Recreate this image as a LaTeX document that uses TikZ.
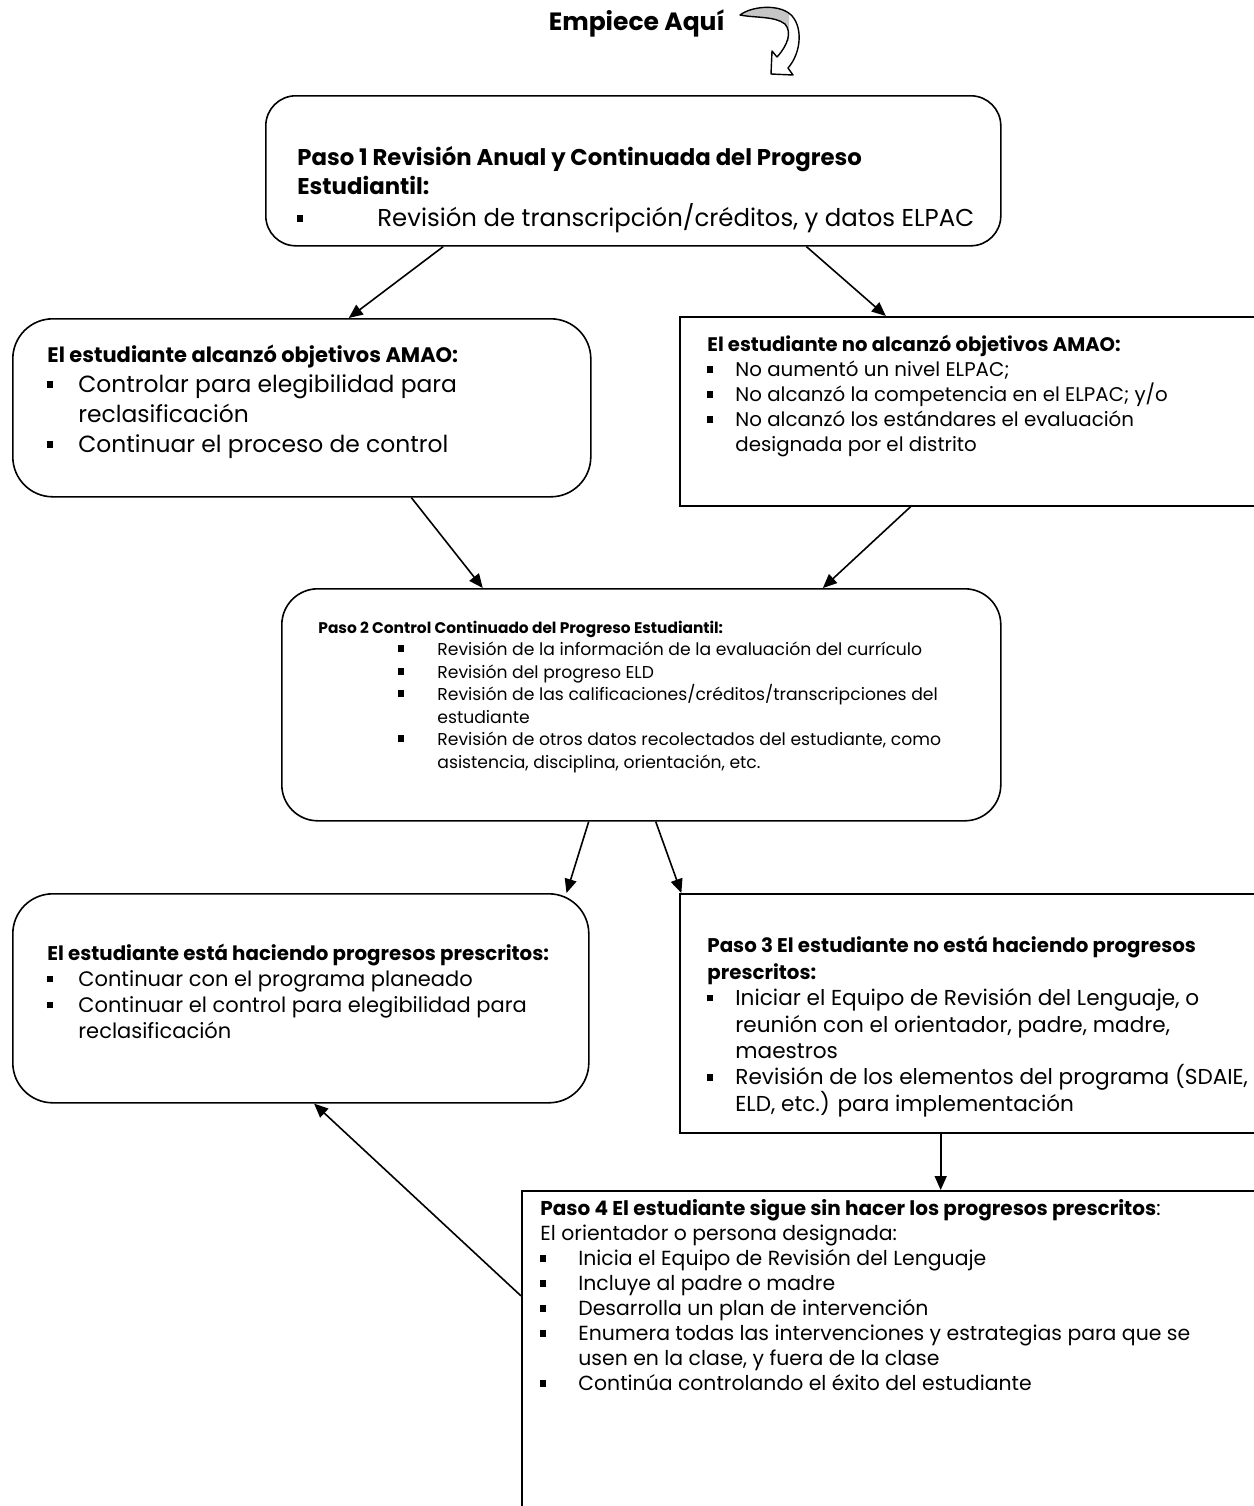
\documentclass[tikz,border=0pt]{standalone}
\usepackage{fontspec}
\setmainfont{Poppins}
\usetikzlibrary{arrows.meta,calc}
\newcommand\sqbul{\rule[0.2em]{2.9pt}{3.4pt}}
\newcommand\itm[1]{\makebox[#1][l]{\sqbul}}
\newcommand\bsz[2]{{\fontsize{#1}{\baselineskip}\selectfont\bfseries #2}}
\begin{document}
\begin{tikzpicture}[x=0.5pt,y=-0.5pt,
  box/.style={draw, line width=0.8pt, inner sep=0pt, anchor=north west},
  rbox/.style={box, rounded corners=#1},
  txt/.style={anchor=north west, inner sep=0pt, align=left},
  arr/.style={line width=0.8pt, -{Triangle[length=7pt,width=6pt]}}]
\useasboundingbox (0,0) rectangle (1254,1506);
\fill[white] (0,0) rectangle (1254,1506);
\clip (0,0) rectangle (1254,1506);

% start label and curved arrow
\node[anchor=base east, inner sep=0pt, font=\bfseries\fontsize{12.5}{15}\selectfont] (start) at (725,30) {Empiece Aquí};
\def\curlpath{(740,15) .. controls (752,6) and (778,4) .. (790,14)
  .. controls (803,25) and (802,52) .. (788,68) -- (793,75) -- (771,74) -- (772,51) -- (777,57)
  .. controls (788,45) and (792,32) .. (785,24) .. controls (775,16) and (755,18) .. (740,15) -- cycle}
\fill[white] \curlpath;
\begin{scope}
\clip (700,0) rectangle (789,40);
\fill[gray!45] \curlpath;
\end{scope}
\draw[line width=0.7pt, line join=round] \curlpath;

% boxes
\node[rbox=15pt, minimum width=367.5pt, minimum height=75pt] (p1) at (265,95) {};
\node[rbox=20pt, minimum width=289pt, minimum height=89pt] (ba) at (12,318) {};
\node[box, minimum width=295.5pt, minimum height=94.5pt] (bb) at (679,316) {};
\node[rbox=18pt, minimum width=359.5pt, minimum height=116pt] (p2) at (281,588) {};
\node[rbox=20pt, minimum width=288pt, minimum height=104.5pt] (bc) at (12,893) {};
\node[box, minimum width=295.5pt, minimum height=119.5pt] (bd) at (679,893) {};
\node[box, minimum width=374.5pt, minimum height=170pt] (p4) at (521,1190) {};

% texts
\node[txt, font=\fontsize{12.2}{14.5}\selectfont] (p1t) at (297,145) {\strut\bsz{11.4}{Paso 1 Revisión Anual y Continuada del Progreso}\\
\bsz{11.4}{Estudiantil:}\\[1.5pt]
\itm{40pt}Revisión de transcripción/créditos, y datos ELPAC};

\node[txt, font=\fontsize{11.7}{15}\selectfont] (bat) at (47,341) {\strut\bsz{10.5}{El estudiante alcanzó objetivos AMAO:}\\
\itm{15.5pt}Controlar para elegibilidad para\\
\hspace*{15.5pt}reclasificación\\
\itm{15.5pt}Continuar el proceso de control};

\node[txt, font=\fontsize{9.9}{12.5}\selectfont] (bbt) at (707,334) {\strut\bsz{9.8}{El estudiante no alcanzó objetivos AMAO:}\\
\itm{14pt}No aumentó un nivel ELPAC;\\
\itm{14pt}No alcanzó la competencia en el ELPAC; y/o\\
\itm{14pt}No alcanzó los estándares el evaluación\\
\hspace*{14pt}designada por el distrito};

\node[txt, font=\fontsize{8.6}{11.25}\selectfont] (p2t) at (318,617) {\strut\bsz{7.7}{Paso 2 Control Continuado del Progreso Estudiantil:}\\
\hspace*{40pt}\itm{19.5pt}Revisión de la información de la evaluación del currículo\\
\hspace*{40pt}\itm{19.5pt}Revisión del progreso ELD\\
\hspace*{40pt}\itm{19.5pt}Revisión de las calificaciones/créditos/transcripciones del\\
\hspace*{59.5pt}estudiante\\
\hspace*{40pt}\itm{19.5pt}Revisión de otros datos recolectados del estudiante, como\\
\hspace*{59.5pt}asistencia, disciplina, orientación, etc.};

\node[txt, font=\fontsize{10.5}{13}\selectfont] (bct) at (47,942) {\strut\bsz{9.9}{El estudiante está haciendo progresos prescritos:}\\
\itm{15.5pt}Continuar con el programa planeado\\
\itm{15.5pt}Continuar el control para elegibilidad para\\
\hspace*{15.5pt}reclasificación};

\node[txt, font=\fontsize{10.8}{13.2}\selectfont] (bdt) at (707,934) {\strut\bsz{9.9}{Paso 3 El estudiante no está haciendo progresos}\\
\bsz{9.9}{prescritos:}\\
\itm{14pt}Iniciar el Equipo de Revisión del Lenguaje, o\\
\hspace*{14pt}reunión con el orientador, padre, madre,\\
\hspace*{14pt}maestros\\
\itm{14pt}Revisión de los elementos del programa (SDAIE,\\
\hspace*{14pt}ELD, etc.) para implementación};

\node[txt, font=\fontsize{10.2}{12.5}\selectfont] (p4t) at (540,1198) {\strut\bsz{10}{Paso 4 El estudiante sigue sin hacer los progresos prescritos}:\\
El orientador o persona designada:\\
\itm{19pt}Inicia el Equipo de Revisión del Lenguaje\\
\itm{19pt}Incluye al padre o madre\\
\itm{19pt}Desarrolla un plan de intervención\\
\itm{19pt}Enumera todas las intervenciones y estrategias para que se\\
\hspace*{19pt}usen en la clase, y fuera de la clase\\
\itm{19pt}Continúa controlando el éxito del estudiante};

% connectors
\draw[arr] ($(p1.south west)!0.242!(p1.south east)$) -- ($(ba.north west)!0.581!(ba.north east)$);
\draw[arr] ($(p1.south west)!0.735!(p1.south east)$) -- ($(bb.north west)!0.349!(bb.north east)$);
\draw[arr] ($(ba.south west)!0.689!(ba.south east)$) -- ($(p2.north west)!0.280!(p2.north east)$);
\draw[arr] ($(bb.south west)!0.391!(bb.south east)$) -- ($(p2.north west)!0.752!(p2.north east)$);
\draw[arr] ($(p2.south west)!0.427!(p2.south east)$) -- ($(bc.north west)!0.960!(bc.north east)$);
\draw[arr] ($(p2.south west)!0.520!(p2.south east)$) -- ($(bd.north west)!0.004!(bd.north east)$);
\coordinate (d3) at ($(bd.south west)!0.4416!(bd.south east)$);
\draw[arr] (d3) -- (d3 |- p4.north);
\draw[arr] ($(p4.north west)!0.31!(p4.south west)$) -- ($(bc.south west)!0.523!(bc.south east)$);
\end{tikzpicture}
\end{document}
